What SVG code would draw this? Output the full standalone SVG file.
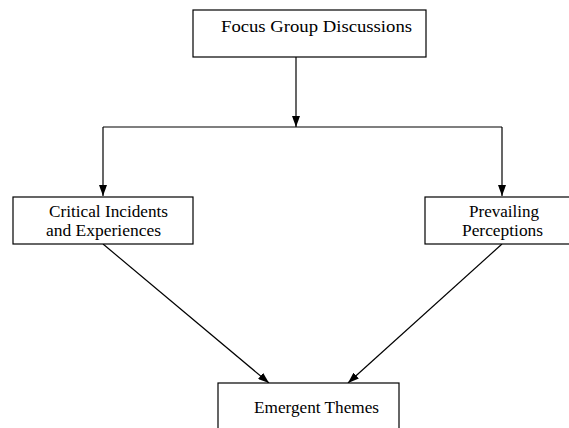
<svg xmlns="http://www.w3.org/2000/svg" width="569" height="428" viewBox="0 0 569 428">
<style>
.box{fill:#fff;stroke:#000;stroke-width:1.2}
.t{font-family:"Liberation Serif","Times New Roman",serif;font-size:16px;fill:#000}
.c{fill:none;stroke:#000;stroke-width:1.2}
</style>
<defs>
<marker id="ah" viewBox="0 0 11 8" refX="11" refY="4" markerWidth="11" markerHeight="8" markerUnits="userSpaceOnUse" orient="auto">
<path d="M0,0 L11,4 L0,8 z" fill="#000"/>
</marker>
</defs>
<rect width="569" height="428" fill="#fff"/>
<g id="connectors">
<line class="c" x1="296" y1="57" x2="296" y2="127" marker-end="url(#ah)"/>
<polyline class="c" points="103,127 502,127"/>
<line class="c" x1="103" y1="127" x2="103" y2="196" marker-end="url(#ah)"/>
<line class="c" x1="502" y1="127" x2="502" y2="196" marker-end="url(#ah)"/>
<line class="c" x1="103" y1="244" x2="269" y2="383" marker-end="url(#ah)"/>
<line class="c" x1="502" y1="244" x2="348" y2="383" marker-end="url(#ah)"/>
</g>
<g id="focus">
<rect class="box" x="193" y="10" width="233" height="47"/>
<text class="t" x="221" y="32" textLength="191" lengthAdjust="spacingAndGlyphs">Focus Group Discussions</text>
</g>
<g id="critical">
<rect class="box" x="13" y="197" width="180" height="47"/>
<text class="t" x="49" y="217" textLength="119" lengthAdjust="spacingAndGlyphs">Critical Incidents</text>
<text class="t" x="46" y="236" textLength="115" lengthAdjust="spacingAndGlyphs">and Experiences</text>
</g>
<g id="prevailing">
<rect class="box" x="425" y="197" width="150" height="47"/>
<text class="t" x="469" y="217" textLength="70" lengthAdjust="spacingAndGlyphs">Prevailing</text>
<text class="t" x="462" y="236" textLength="81" lengthAdjust="spacingAndGlyphs">Perceptions</text>
</g>
<g id="emergent">
<rect class="box" x="218" y="383" width="181" height="60"/>
<text class="t" x="254" y="413" textLength="125" lengthAdjust="spacingAndGlyphs">Emergent Themes</text>
</g>
</svg>
